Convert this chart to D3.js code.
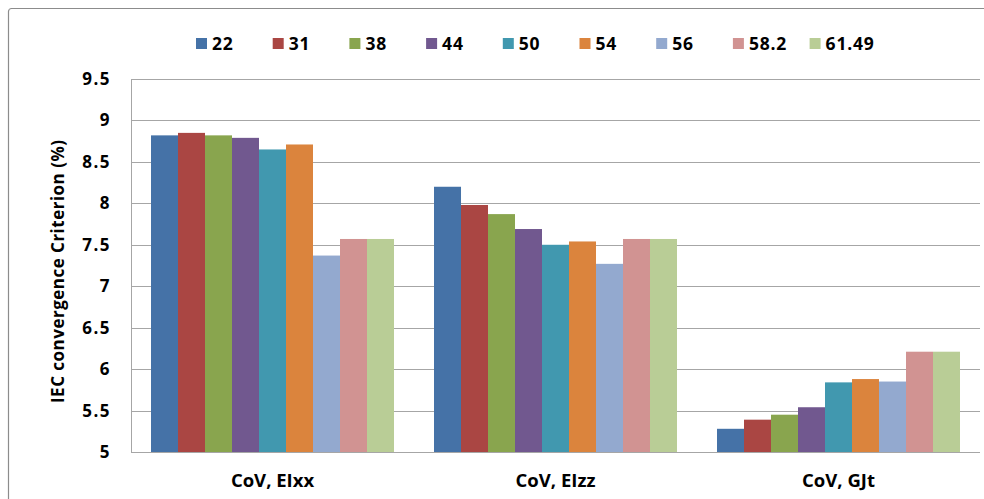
<!DOCTYPE html>
<html><head><meta charset="utf-8">
<script src="https://cdn.jsdelivr.net/npm/d3@7"></script>
<style>body{margin:0;background:#fff}svg{display:block}text{font-family:"Open Sans","Liberation Sans",sans-serif;font-weight:bold;fill:#000}</style>
</head><body><svg id="c" width="984" height="499"></svg>
<script>
const categories = ["CoV, EIxx", "CoV, EIzz", "CoV, GJt"];
const seriesNames = ["22", "31", "38", "44", "50", "54", "56", "58.2", "61.49"];
const colors = ["#4572A7", "#AA4643", "#89A54E", "#71588F", "#4198AF", "#DB843D", "#93A9CF", "#D19392", "#B9CD96"];
const s22   = [8.82, 8.20, 5.28];
const s31   = [8.85, 7.98, 5.39];
const s38   = [8.82, 7.87, 5.45];
const s44   = [8.79, 7.69, 5.54];
const s50   = [8.65, 7.50, 5.84];
const s54   = [8.71, 7.54, 5.88];
const s56   = [7.37, 7.27, 5.85];
const s582  = [7.57, 7.57, 6.21];
const s6149 = [7.57, 7.57, 6.21];
const yTicks = [5, 5.5, 6, 6.5, 7, 7.5, 8, 8.5, 9, 9.5];
const yTitle = "IEC convergence Criterion (%)";

const series = [s22, s31, s38, s44, s50, s54, s56, s582, s6149];
const svg = d3.select("#c");
const L = 131, R = 980, T = 79, B = 452;

// outer frame
svg.append("rect").attr("x", 8.5).attr("y", 8.5).attr("width", 1000).attr("height", 520)
  .attr("rx", 3).attr("fill", "none").attr("stroke", "#8c8c8c").attr("stroke-width", 1.2);

const x0 = d3.scaleBand().domain(categories).range([L, R]).paddingInner(0.1414).paddingOuter(0.0707);
const x1 = d3.scaleBand().domain(seriesNames).range([0, x0.bandwidth()]).padding(0);
const y = d3.scaleLinear().domain([5, 9.5]).range([B, T]);

// gridlines
svg.append("g").selectAll("line").data(yTicks).join("line")
  .attr("x1", L).attr("x2", R).attr("y1", d => Math.round(y(d)) + 0.5).attr("y2", d => Math.round(y(d)) + 0.5)
  .attr("stroke", "#a6a6a6").attr("stroke-width", 1);

// bars
const g = svg.append("g");
categories.forEach((c, ci) => {
  series.forEach((s, si) => {
    g.append("rect")
      .attr("x", x0(c) + x1(seriesNames[si]))
      .attr("y", y(s[ci]))
      .attr("width", x1.bandwidth())
      .attr("height", B - y(s[ci]))
      .attr("fill", colors[si]);
  });
});

// axes lines
svg.append("line").attr("x1", L + 0.5).attr("x2", L + 0.5).attr("y1", T).attr("y2", B).attr("stroke", "#a6a6a6");
svg.append("line").attr("x1", L).attr("x2", R).attr("y1", B + 0.5).attr("y2", B + 0.5).attr("stroke", "#a6a6a6");

// y tick labels
svg.append("g").selectAll("text").data(yTicks).join("text")
  .attr("x", 111).attr("y", d => y(d) + 6).attr("text-anchor", "end")
  .attr("font-size", 17).attr("letter-spacing", 1.5).text(d => d3.format("")(d));

// x labels
svg.append("g").selectAll("text").data(categories).join("text")
  .attr("x", d => x0(d) + x0.bandwidth() / 2).attr("y", 487)
  .attr("text-anchor", "middle").attr("font-size", 18.5).text(d => d);

// y title
svg.append("text").attr("transform", "translate(64," + 271.5 + ") rotate(-90)")
  .attr("text-anchor", "middle").attr("font-size", 17)
  .attr("textLength", 263).attr("lengthAdjust", "spacing").text(yTitle);

// legend
const leg = svg.append("g");
seriesNames.forEach((n, i) => {
  const lx = 196 + i * 76.7;
  leg.append("rect").attr("x", lx).attr("y", 38).attr("width", 11).attr("height", 11).attr("fill", colors[i]);
  leg.append("text").attr("x", lx + 16).attr("y", 50).attr("font-size", 17.5).attr("letter-spacing", 0.8).text(n);
});
</script></body></html>
